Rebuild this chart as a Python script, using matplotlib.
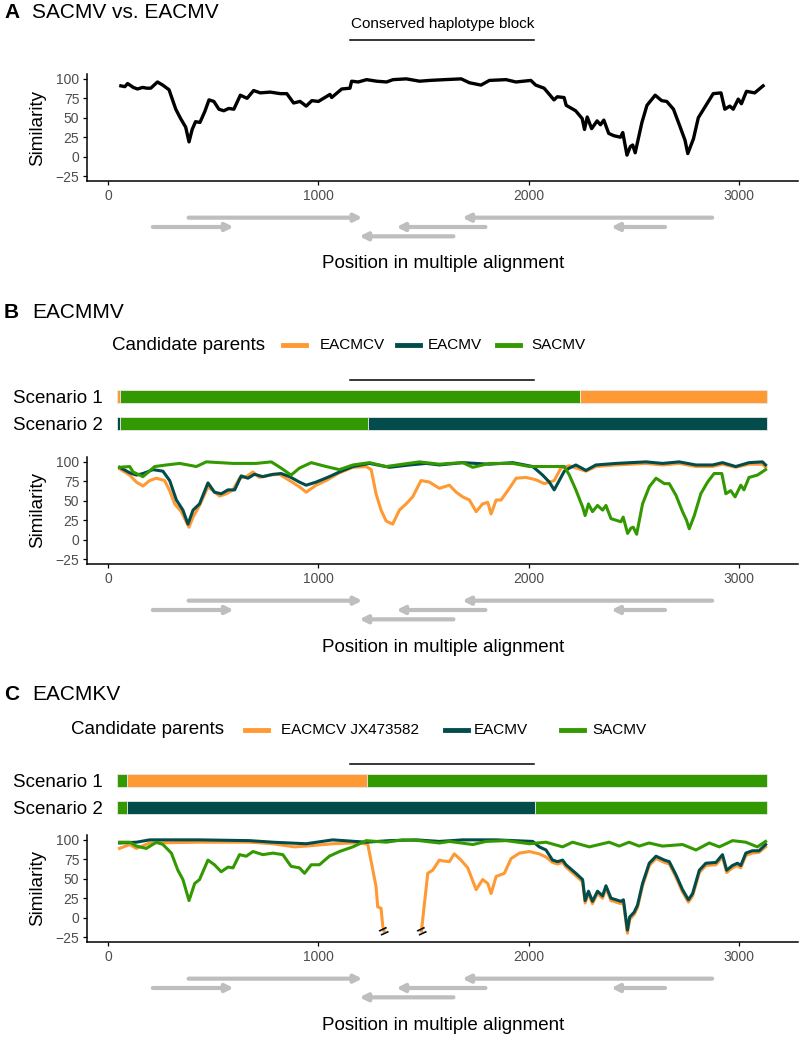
import matplotlib.pyplot as plt
import numpy as np
from matplotlib.lines import Line2D

plt.rcParams['font.family'] = ['Liberation Sans', 'DejaVu Sans']

W, H = 800, 1038

ORANGE = '#FF9933'
DARK = '#024D4C'
GREEN = '#339900'
GREY = '#BEBEBE'

x_ticks = [0, 1000, 2000, 3000]
y_ticks = [-25, 0, 25, 50, 75, 100]

# conserved haplotype block (alignment positions)
hap_start, hap_end = 1152, 2026

# ORFs drawn under every panel
orf_start = [213, 383, 1794, 2872, 1642, 2648]
orf_end = [597, 1209, 1371, 1684, 1195, 2392]
orf_row = [2, 3, 2, 3, 1, 2]

# A: SACMV vs EACMV
a_pos = [61, 80, 93, 120, 140, 164, 185, 203, 235, 260, 290, 322, 345, 369, 385, 400, 416, 437, 460, 480,
         503, 527, 550, 574, 598, 629, 661, 692, 724, 771, 819, 850, 882, 913, 942, 969, 1000, 1055, 1063, 1111,
         1150, 1158, 1190, 1229, 1277, 1324, 1355, 1418, 1481, 1529, 1600, 1679, 1718, 1773, 1813, 1892, 1939,
         2010, 2033, 2073, 2120, 2136, 2168, 2178, 2223, 2254, 2265, 2278, 2299, 2325, 2341, 2357, 2380, 2404,
         2436, 2447, 2467, 2483, 2494, 2506, 2538, 2562, 2601, 2632, 2656, 2688, 2720, 2743, 2756, 2783, 2806,
         2838, 2877, 2914, 2932, 2956, 2972, 2996, 3011, 3035, 3074, 3114]
a_sim = [91, 90, 94, 89, 87, 89, 88, 88, 96, 92, 86, 61, 49, 38, 19, 35, 45, 44, 58, 73,
         71, 61, 59, 62, 61, 79, 75, 85, 82, 83, 81, 81, 69, 71, 65, 72, 71, 80, 76, 87,
         88, 97, 96, 99, 97, 96, 99, 100, 97, 98, 99, 100, 95, 92, 98, 99, 96,
         98, 92, 88, 73, 77, 76, 66, 59, 49, 35, 51, 36, 46, 41, 47, 30, 27,
         25, 31, 2, 13, 15, 5, 44, 66, 79, 72, 71, 61, 38, 21, 4, 23, 50,
         64, 81, 82, 61, 65, 61, 74, 68, 84, 82, 91]

# B: EACMMV
b_eacmcv_pos = [55, 103, 135, 166, 198, 230, 269, 293, 317, 348, 372, 385, 404, 435, 475, 499, 530, 562, 594, 625,
                657, 689, 720, 768, 815, 863, 910, 942, 989, 1037, 1100, 1164, 1227, 1251, 1274, 1298, 1322, 1353,
                1385, 1417, 1448, 1488, 1528, 1575, 1623, 1655, 1686, 1718, 1750, 1781, 1805, 1821, 1845, 1868,
                1908, 1940, 1987, 2034, 2074, 2121, 2153, 2193, 2272, 2319, 2414, 2557, 2636, 2715, 2795, 2874,
                2921, 2984, 3047, 3111, 3126]
b_eacmcv_sim = [91, 83, 74, 69, 76, 79, 76, 63, 46, 36, 23, 16, 29, 44, 68, 63, 56, 59, 64, 79,
                81, 87, 80, 83, 84, 76, 68, 61, 70, 76, 86, 93, 94, 90, 59, 38, 24, 20,
                38, 46, 55, 76, 74, 66, 70, 61, 55, 51, 36, 46, 48, 33, 51, 51,
                66, 79, 80, 77, 72, 76, 92, 95, 88, 94, 96, 98, 96, 98, 94, 94,
                97, 93, 97, 97, 93]
b_eacmv_pos = [55, 103, 135, 166, 214, 261, 293, 325, 356, 380, 404, 435, 475, 506, 538, 570, 602, 633, 665, 696,
               736, 784, 823, 863, 910, 942, 989, 1052, 1100, 1164, 1243, 1338, 1433, 1512, 1575, 1686, 1813, 1924,
               2019, 2066, 2098, 2121, 2145, 2169, 2193, 2224, 2272, 2319, 2414, 2557, 2636, 2715, 2795, 2874,
               2921, 2984, 3047, 3111, 3126]
b_eacmv_sim = [93, 86, 83, 85, 90, 88, 76, 51, 38, 20, 38, 46, 73, 61, 59, 64, 64, 82, 79, 84,
               81, 84, 85, 81, 74, 70, 74, 81, 87, 94, 98, 93, 96, 98, 96, 99, 97, 99,
               94, 83, 74, 64, 76, 88, 92, 96, 89, 96, 98, 100, 98, 100, 96, 96,
               99, 94, 99, 100, 96]
b_sacmv_pos = [55, 103, 119, 166, 222, 277, 341, 420, 467, 594, 704, 776, 823, 870, 910, 966, 1037, 1100, 1164,
               1243, 1322, 1401, 1480, 1575, 1623, 1686, 1734, 1813, 1924, 2003, 2066, 2121, 2169, 2193, 2224,
               2256, 2268, 2284, 2303, 2327, 2351, 2367, 2391, 2415, 2438, 2449, 2470, 2486, 2497, 2513, 2541,
               2573, 2605, 2645, 2668, 2700, 2731, 2750, 2763, 2787, 2818, 2850, 2881, 2918, 2937, 2960, 2981,
               3008, 3023, 3047, 3087, 3126]
b_sacmv_sim = [93, 94, 87, 81, 94, 96, 98, 94, 100, 98, 98, 100, 92, 83, 92, 99, 94, 90, 96,
               99, 94, 97, 100, 97, 98, 99, 93, 98, 98, 94, 94, 94, 94, 83, 64,
               42, 31, 46, 36, 44, 38, 44, 27, 25, 23, 29, 8, 15, 16, 7, 46,
               68, 79, 72, 72, 57, 36, 25, 14, 31, 59, 74, 85, 85, 59, 63, 55,
               70, 64, 80, 83, 90]

# C: EACMKV (None = axis break in the EACMCV curve)
c_eacmcv_pos = [55, 103, 135, 198, 435, 673, 784, 886, 942, 1068, 1164, 1227, 1235, 1259, 1274, 1282, 1298,
                1306, 1312, None,
                1490, 1504, 1520, 1543, 1575, 1591, 1623, 1646, 1678, 1710, 1750, 1781, 1805, 1821, 1845, 1884,
                1916, 1956, 2003, 2050, 2082, 2113, 2137, 2161, 2177, 2224, 2256, 2268, 2284, 2303, 2327, 2351,
                2367, 2391, 2415, 2438, 2450, 2469, 2480, 2501, 2517, 2541, 2573, 2605, 2645, 2668, 2700, 2731,
                2759, 2779, 2811, 2842, 2890, 2921, 2941, 2968, 2992, 3008, 3032, 3063, 3095, 3126]
c_eacmcv_sim = [89, 94, 89, 96, 97, 97, 95, 91, 92, 95, 96, 95, 94, 61, 40, 14, 12,
                -11, -17, None,
                -17, 18, 57, 61, 74, 73, 72, 82, 74, 64, 36, 49, 44, 31, 53, 57,
                76, 83, 85, 82, 78, 71, 69, 71, 65, 54, 46, 19, 31, 18, 31, 25,
                38, 22, 20, 18, 20, -20, -2, 4, 13, 41, 67, 76, 71, 69, 52, 33,
                20, 28, 58, 67, 68, 78, 58, 64, 67, 64, 80, 83, 84, 91]
c_eacmv_pos = [55, 135, 198, 435, 673, 784, 942, 1068, 1227, 1338, 1465, 1575, 1686, 1845, 2019, 2050, 2082,
               2113, 2137, 2161, 2177, 2224, 2256, 2268, 2284, 2303, 2327, 2351, 2367, 2391, 2415, 2438, 2450,
               2469, 2480, 2501, 2517, 2541, 2573, 2605, 2645, 2668, 2700, 2731, 2759, 2779, 2811, 2842, 2890,
               2921, 2941, 2968, 2992, 3008, 3032, 3063, 3095, 3126]
c_eacmv_sim = [96, 97, 100, 100, 99, 97, 95, 100, 97, 99, 100, 98, 100, 100, 98, 91, 87,
               74, 72, 74, 68, 57, 49, 22, 34, 21, 34, 28, 41, 25, 23, 21, 23,
               -16, 1, 7, 16, 44, 70, 79, 74, 72, 55, 36, 23, 31, 61, 70, 71,
               81, 61, 67, 70, 67, 83, 86, 86, 94]
c_sacmv_pos = [55, 103, 135, 182, 230, 261, 301, 332, 356, 385, 412, 435, 475, 506, 538, 570, 594, 625, 657, 689,
               736, 784, 831, 870, 910, 934, 966, 1005, 1052, 1100, 1164, 1227, 1322, 1401, 1480, 1575, 1623,
               1734, 1797, 1892, 2003, 2082, 2161, 2208, 2288, 2382, 2430, 2477, 2525, 2572, 2636, 2731, 2795,
               2858, 2906, 2969, 3032, 3087, 3126]
c_sacmv_sim = [97, 97, 92, 89, 97, 94, 83, 61, 49, 22, 44, 49, 74, 68, 59, 65, 64, 81, 79, 85,
               81, 83, 81, 66, 64, 57, 68, 68, 79, 85, 91, 99, 97, 100, 99, 96, 98,
               94, 98, 99, 95, 97, 91, 97, 91, 97, 92, 97, 92, 96, 92, 94, 87,
               96, 91, 99, 97, 91, 98]
c_break_pos = [1310, 1492]
c_break_sim = -19

# recombination scenarios: (start, end, parent)
b_scenario1 = [(41, 55, 'EACMCV'), (55, 2243, 'SACMV'), (2243, 3132, 'EACMCV')]
b_scenario2 = [(41, 55, 'EACMV'), (55, 1234, 'SACMV'), (1234, 3132, 'EACMV')]
c_scenario1 = [(41, 91, 'SACMV'), (91, 1229, 'EACMCV'), (1229, 3132, 'SACMV')]
c_scenario2 = [(41, 91, 'SACMV'), (91, 2029, 'EACMV'), (2029, 3132, 'SACMV')]
parent_colors = {'EACMCV': ORANGE, 'EACMV': DARK, 'SACMV': GREEN}

fig = plt.figure(figsize=(W / 100, H / 100), dpi=100)


def fx(x):
    return x / W


def fy(y):
    return 1 - y / H


def px_axes(left, top, right, bottom):
    return fig.add_axes([fx(left), fy(bottom), (right - left) / W, (bottom - top) / H])


def sim_axes(top, bottom):
    ax = px_axes(87, top, 798, bottom)
    ax.spines['top'].set_visible(False)
    ax.spines['right'].set_visible(False)
    ax.spines['left'].set_linewidth(1.1)
    ax.spines['bottom'].set_linewidth(1.1)
    ax.set_xlim(-100, 3280)
    ax.set_ylim(-31.25, 106.25)
    ax.set_xticks(x_ticks)
    ax.set_yticks(y_ticks)
    ax.tick_params(labelsize=10, labelcolor='#4D4D4D', length=3, width=0.9, pad=2.5)
    fig.text(fx(38), fy((top + bottom) / 2), 'Similarity', rotation=90, ha='center', va='center', fontsize=13.5)
    orf_axes(bottom)
    return ax


def orf_axes(axis_bottom):
    ax = px_axes(87, axis_bottom + 32, 798, axis_bottom + 60)
    ax.set_xlim(-100, 3280)
    ax.set_ylim(0.5, 3.5)
    ax.axis('off')
    for s, e, r in zip(orf_start, orf_end, orf_row):
        ax.annotate('', xy=(e, r), xytext=(s, r),
                    arrowprops=dict(arrowstyle='-|>', color=GREY, lw=3, mutation_scale=11,
                                    shrinkA=0, shrinkB=0))
    fig.text(fx(443), fy(axis_bottom + 83), 'Position in multiple alignment',
             ha='center', va='center', fontsize=13.5)


def scenario_axes(s1_center, scenarios):
    ax = px_axes(87, s1_center - 22, 798, s1_center + 39)
    ax.set_xlim(-100, 3280)
    ax.set_ylim(1.45, -0.81)
    for row, segs in enumerate(scenarios):
        for start, end, parent in segs:
            ax.barh(row, end - start, left=start, height=0.48, color=parent_colors[parent],
                    edgecolor='#E8E8E8', linewidth=0.6)
    ax.plot([hap_start, hap_end], [-0.62, -0.62], color='black', lw=1.1)
    ax.set_yticks([0, 1])
    ax.set_yticklabels(['Scenario 1', 'Scenario 2'], fontsize=13.5)
    ax.tick_params(axis='y', length=0, pad=-11.5)
    ax.set_xticks([])
    for s in ax.spines.values():
        s.set_visible(False)
    ax.patch.set_alpha(0)
    return ax


def legend(y, title_x, keys):
    fig.text(fx(title_x), fy(y), 'Candidate parents', ha='left', va='center', fontsize=13.5)
    for key_x, label_x, label, color in keys:
        fig.add_artist(Line2D([fx(key_x), fx(key_x + 23)], [fy(y), fy(y)], color=color, lw=3.5,
                              transform=fig.transFigure))
        fig.text(fx(label_x), fy(y), label, ha='left', va='center', fontsize=11)


def title(y, letter, name):
    fig.text(fx(4), fy(y), letter, fontweight='bold', fontsize=15, ha='left', va='center')
    fig.text(fx(32), fy(y), name, fontsize=15, ha='left', va='center')


# ---- panel A
title(12, 'A', 'SACMV vs. EACMV')
ax_a = sim_axes(74, 181)
ax_a.plot(a_pos, a_sim, color='black', lw=2.4, solid_joinstyle='round')
ax_a.plot([hap_start, hap_end], [150, 150], color='black', lw=1.1, clip_on=False)
ax_a.text((hap_start + hap_end) / 2, 170.5, 'Conserved haplotype block', ha='center', va='center', fontsize=11)

# ---- panel B
title(313, 'B', 'EACMMV')
legend(345, 112, [(283, 320, 'EACMCV', ORANGE), (397, 428, 'EACMV', DARK), (497, 531, 'SACMV', GREEN)])
scenario_axes(396.5, [b_scenario1, b_scenario2])
ax_b = sim_axes(457, 564)
ax_b.plot(b_eacmcv_pos, b_eacmcv_sim, color=ORANGE, lw=2.2)
ax_b.plot(b_eacmv_pos, b_eacmv_sim, color=DARK, lw=2.2)
ax_b.plot(b_sacmv_pos, b_sacmv_sim, color=GREEN, lw=2.2)

# ---- panel C
title(695, 'C', 'EACMKV')
legend(730, 71, [(245, 281, 'EACMCV JX473582', ORANGE), (445, 474, 'EACMV', DARK), (561, 592, 'SACMV', GREEN)])
scenario_axes(780.5, [c_scenario1, c_scenario2])
ax_c = sim_axes(835, 942)
ax_c.plot(np.array(c_eacmcv_pos, dtype=float), np.array(c_eacmcv_sim, dtype=float), color=ORANGE, lw=2.2)
ax_c.plot(c_eacmv_pos, c_eacmv_sim, color=DARK, lw=2.2)
ax_c.plot(c_sacmv_pos, c_sacmv_sim, color=GREEN, lw=2.2)
for p in c_break_pos:
    ax_c.text(p, c_break_sim, '=', rotation=25, ha='center', va='center', fontsize=12, fontweight='bold')

fig.savefig('out.png', dpi=100, facecolor='white')
